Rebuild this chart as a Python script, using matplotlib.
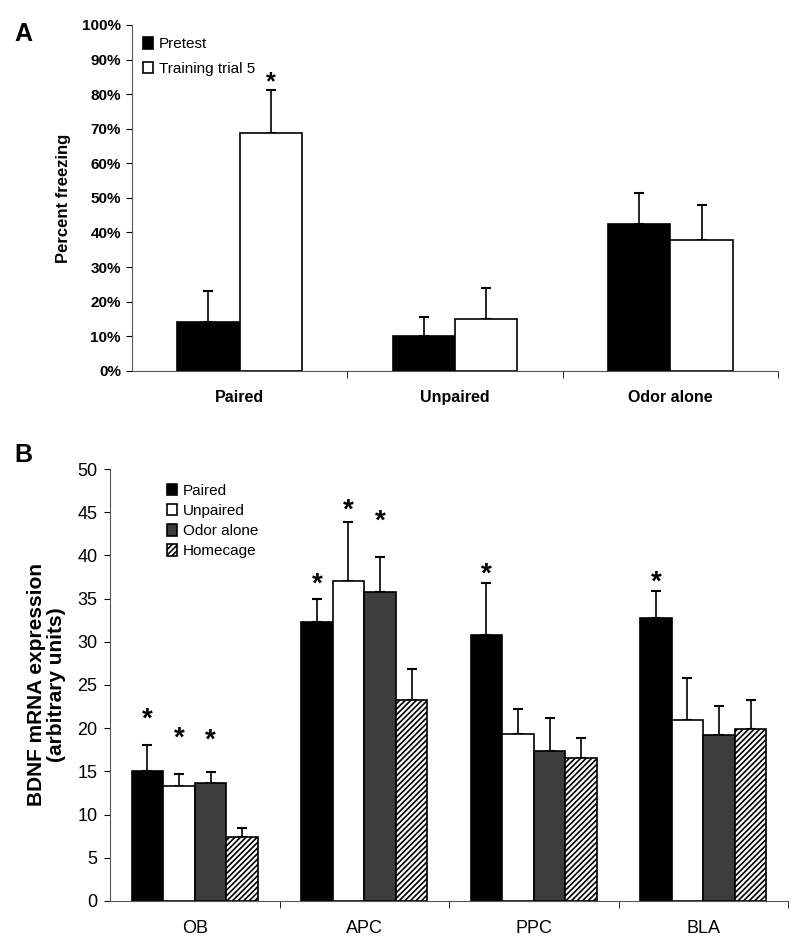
import matplotlib
matplotlib.use('Agg')
import matplotlib.pyplot as plt
from matplotlib.ticker import FixedLocator, FuncFormatter
import numpy as np

plt.rcParams['font.family'] = ['Liberation Sans', 'DejaVu Sans']
plt.rcParams['hatch.linewidth'] = 1.2

# panel A data
groups_a = ['Paired', 'Unpaired', 'Odor alone']
series_a = ['Pretest', 'Training trial 5']
pretest = [14.0, 10.0, 42.4]
pretest_err = [9.0, 5.6, 8.9]
trial5 = [68.8, 15.0, 37.8]
trial5_err = [12.3, 9.0, 10.1]
stars_a = [(1, 0, 83.5)]   # (series, group, level)

# panel B data
regions_b = ['OB', 'APC', 'PPC', 'BLA']
series_b = ['Paired', 'Unpaired', 'Odor alone', 'Homecage']
paired = [15.1, 32.3, 30.8, 32.7]
paired_err = [3.0, 2.7, 6.0, 3.2]
unpaired = [13.3, 37.0, 19.3, 20.9]
unpaired_err = [1.4, 6.9, 2.9, 4.9]
odor = [13.6, 35.8, 17.4, 19.2]
odor_err = [1.3, 4.0, 3.8, 3.4]
homecage = [7.4, 23.3, 16.6, 19.9]
homecage_err = [1.1, 3.5, 2.3, 3.4]
stars_b = [(0, 0, 21.0), (1, 0, 18.8), (2, 0, 18.6),
           (0, 1, 36.6), (1, 1, 45.2), (2, 1, 43.9),
           (0, 2, 37.8), (0, 3, 36.9)]

fig = plt.figure(figsize=(8, 9.46), dpi=100)

# ---------------- panel A ----------------
axA = fig.add_axes([0.165, 0.608, 0.8075, 0.3656])
w = 0.29
x = np.arange(len(groups_a))
vals_a = [pretest, trial5]
errs_a = [pretest_err, trial5_err]
faces_a = ['black', 'white']
for i in range(2):
    xi = x + (i - 0.5) * w
    axA.bar(xi, vals_a[i], w, color=faces_a[i], edgecolor='black', lw=1.2,
            label=series_a[i], zorder=2)
    axA.errorbar(xi, vals_a[i], yerr=[np.zeros(3), errs_a[i]], fmt='none',
                 ecolor='black', elinewidth=1.2, capsize=3.5, capthick=1.5, zorder=1)
for s, g, lev in stars_a:
    axA.text(x[g] + (s - 0.5) * w, lev, '*', ha='center', va='center',
             fontsize=18, fontweight='bold')
axA.set_xlim(-0.5, 2.5)
axA.set_ylim(0, 100)
axA.yaxis.set_major_locator(FixedLocator(np.arange(0, 101, 10)))
axA.yaxis.set_major_formatter(FuncFormatter(lambda v, p: '%d%%' % v))
axA.set_xticks(x)
axA.set_xticklabels(groups_a, fontsize=11.5, fontweight='bold')
axA.xaxis.set_minor_locator(FixedLocator([0.5, 1.5, 2.5]))
axA.tick_params(axis='x', which='major', length=0, pad=14)
axA.tick_params(axis='x', which='minor', length=5, direction='out')
axA.tick_params(axis='y', labelsize=11, length=4, direction='out', pad=4)
for lab in axA.get_yticklabels():
    lab.set_fontweight('bold')
axA.set_ylabel('Percent freezing', fontsize=12, fontweight='bold', labelpad=8)
for sp in ['top', 'right']:
    axA.spines[sp].set_visible(False)
axA.spines['left'].set_color('#555555')
axA.spines['bottom'].set_color('#555555')
axA.legend(loc='upper left', bbox_to_anchor=(0.0, 0.995), frameon=False, fontsize=11,
           handlelength=0.7, handleheight=0.75, handletextpad=0.35, labelspacing=0.7,
           borderaxespad=0.3)
fig.text(0.018, 0.957, 'A', fontsize=18, fontweight='bold')

# ---------------- panel B ----------------
axB = fig.add_axes([0.1375, 0.0476, 0.8475, 0.4566])
wb = 0.186
xb = np.arange(len(regions_b))
vals_b = [paired, unpaired, odor, homecage]
errs_b = [paired_err, unpaired_err, odor_err, homecage_err]
faces_b = ['black', 'white', '#3c3c3c', 'white']
hatches_b = [None, None, None, '//////']
for i in range(4):
    xi = xb + (i - 1.5) * wb
    axB.bar(xi, vals_b[i], wb, color=faces_b[i], edgecolor='black', lw=1.2,
            hatch=hatches_b[i], label=series_b[i], zorder=2)
    axB.errorbar(xi, vals_b[i], yerr=[np.zeros(4), errs_b[i]], fmt='none',
                 ecolor='black', elinewidth=1.2, capsize=3.5, capthick=1.5, zorder=1)
for s, g, lev in stars_b:
    axB.text(xb[g] + (s - 1.5) * wb, lev, '*', ha='center', va='center',
             fontsize=20, fontweight='bold')
axB.set_xlim(-0.5, 3.5)
axB.set_ylim(0, 50)
axB.yaxis.set_major_locator(FixedLocator(np.arange(0, 51, 5)))
axB.set_xticks(xb)
axB.set_xticklabels(regions_b, fontsize=13)
axB.xaxis.set_minor_locator(FixedLocator([0.5, 1.5, 2.5, 3.5]))
axB.tick_params(axis='x', which='major', length=0, pad=14)
axB.tick_params(axis='x', which='minor', length=5, direction='out')
axB.tick_params(axis='y', labelsize=13, length=4, direction='out', pad=5)
axB.set_ylabel('BDNF mRNA expression\n(arbitrary units)', fontsize=15,
               fontweight='bold', labelpad=8, linespacing=1.1)
for sp in ['top', 'right']:
    axB.spines[sp].set_visible(False)
axB.spines['left'].set_color('#555555')
axB.spines['bottom'].set_color('#555555')
axB.legend(loc='upper left', bbox_to_anchor=(0.068, 0.99), frameon=False, fontsize=11,
           handlelength=0.7, handleheight=0.75, handletextpad=0.35, labelspacing=0.4,
           borderaxespad=0.3)
fig.text(0.018, 0.512, 'B', fontsize=18, fontweight='bold')

fig.savefig('out.png', dpi=100)
